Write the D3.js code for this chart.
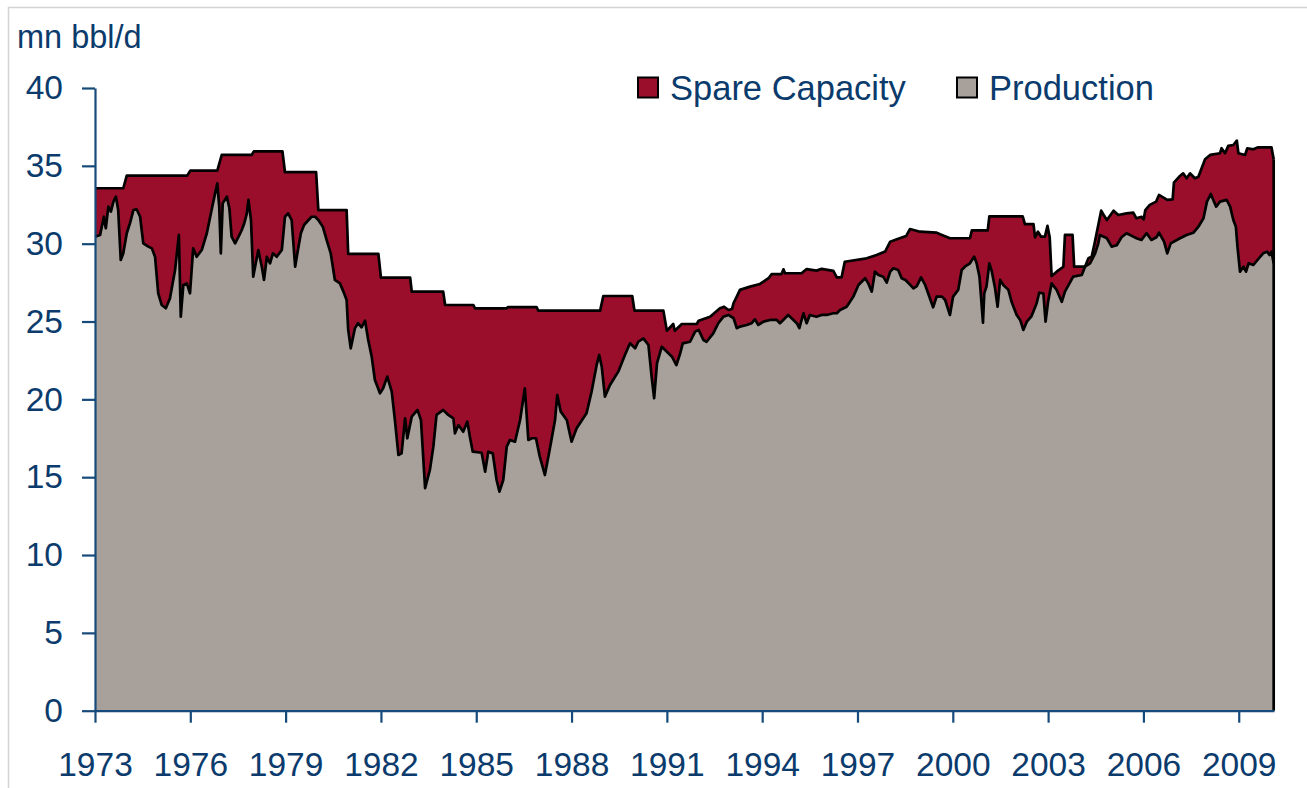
<!DOCTYPE html>
<html>
<head>
<meta charset="utf-8">
<script src="https://cdn.jsdelivr.net/npm/d3@7/dist/d3.min.js"></script>
<style>
  html, body { margin: 0; padding: 0; background: #ffffff; }
  svg { display: block; }
  text { font-family: "Liberation Sans", Arial, sans-serif; fill: #0B3B6C; }
</style>
</head>
<body>
<svg id="chart" width="1307" height="788"></svg>
<script>
// ---- Data ----
const unitLabel = "mn bbl/d";
const seriesNames = ["Spare Capacity", "Production"];
const yTicks = [0, 5, 10, 15, 20, 25, 30, 35, 40];
const xTicks = [1973, 1976, 1979, 1982, 1985, 1988, 1991, 1994, 1997, 2000, 2003, 2006, 2009];

// total capacity (production + spare capacity), decimal years
const capacityYears = [
  1973.0, 1973.89, 1974.0, 1975.9, 1976.0, 1976.85, 1976.99, 1977.93, 1978.0, 1978.9,
  1978.98, 1979.96, 1980.03, 1980.92, 1980.97, 1981.92, 1982.0, 1982.92, 1982.97, 1983.96,
  1984.02, 1984.91, 1984.96, 1985.96, 1986.0, 1986.9, 1986.95, 1988.9, 1989.0, 1989.91,
  1989.98, 1990.89, 1991.0, 1991.2, 1991.25, 1991.47, 1991.94, 1992.0, 1992.36, 1992.67,
  1992.8, 1992.94, 1993.05, 1993.1, 1993.2, 1993.3, 1993.62, 1993.93, 1994.2, 1994.3,
  1994.61, 1994.67, 1994.72, 1995.24, 1995.4, 1995.71, 1995.87, 1996.24, 1996.35, 1996.5,
  1996.6, 1997.29, 1997.6, 1997.87, 1998.03, 1998.24, 1998.53, 1998.65, 1998.97, 1999.49,
  1999.6, 1999.91, 2000.54, 2000.6, 2001.1, 2001.15, 2002.2, 2002.27, 2002.54, 2002.59,
  2002.68, 2002.78, 2002.9, 2002.98, 2003.05, 2003.11, 2003.27, 2003.48, 2003.53, 2003.77,
  2003.82, 2004.16, 2004.27, 2004.37, 2004.45, 2004.67, 2004.75, 2004.85, 2005.06, 2005.21,
  2005.47, 2005.68, 2005.78, 2005.94, 2006.01, 2006.06, 2006.2, 2006.4, 2006.49, 2006.75,
  2006.92, 2006.96, 2007.15, 2007.25, 2007.36, 2007.47, 2007.62, 2007.73, 2007.94, 2008.1,
  2008.41, 2008.46, 2008.57, 2008.67, 2008.83, 2008.94, 2008.99, 2009.2, 2009.27, 2009.46,
  2009.61, 2010.03, 2010.1
];
const capacityValues = [
  33.56, 33.56, 34.37, 34.37, 34.69, 34.69, 35.70, 35.70, 35.93, 35.93,
  34.59, 34.59, 32.16, 32.16, 29.34, 29.34, 27.82, 27.82, 26.92, 26.92,
  26.06, 26.06, 25.85, 25.85, 25.93, 25.93, 25.70, 25.70, 26.64, 26.64,
  25.70, 25.70, 24.41, 24.84, 24.41, 24.84, 24.84, 25.05, 25.31, 25.85,
  25.95, 25.74, 25.80, 26.19, 26.60, 27.03, 27.24, 27.41, 27.78, 28.05,
  28.05, 28.35, 28.10, 28.10, 28.37, 28.27, 28.38, 28.25, 27.84, 27.84,
  28.84, 29.06, 29.27, 29.49, 30.13, 30.28, 30.49, 30.94, 30.77, 30.71,
  30.60, 30.35, 30.35, 30.85, 30.85, 31.75, 31.75, 31.26, 31.26, 30.41,
  30.77, 30.45, 30.45, 31.14, 30.41, 27.92, 28.20, 28.52, 30.56, 30.56,
  28.52, 28.52, 29.06, 29.16, 29.90, 32.12, 31.84, 31.52, 32.12, 31.84,
  31.95, 32.00, 31.63, 31.73, 31.57, 32.16, 32.49, 32.70, 33.13, 32.81,
  32.85, 33.92, 34.35, 34.52, 34.20, 34.52, 34.20, 34.30, 35.42, 35.70,
  35.81, 36.13, 35.81, 36.28, 36.34, 36.62, 35.81, 35.70, 36.13, 36.06,
  36.19, 36.19, 35.42
];

// crude oil production, decimal years
const productionYears = [
  1973.0, 1973.16, 1973.28, 1973.34, 1973.42, 1973.5, 1973.58, 1973.66, 1973.73, 1973.81,
  1973.89, 1974.0, 1974.1, 1974.21, 1974.31, 1974.42, 1974.52, 1974.68, 1974.79, 1974.89,
  1974.99, 1975.1, 1975.23, 1975.36, 1975.52, 1975.64, 1975.7, 1975.78, 1975.89, 1975.99,
  1976.09, 1976.2, 1976.36, 1976.52, 1976.67, 1976.78, 1976.85, 1976.91, 1976.96, 1977.02,
  1977.15, 1977.23, 1977.3, 1977.41, 1977.52, 1977.62, 1977.7, 1977.78, 1977.83, 1977.91,
  1977.98, 1978.06, 1978.14, 1978.25, 1978.32, 1978.41, 1978.51, 1978.6, 1978.72, 1978.88,
  1978.98, 1979.08, 1979.19, 1979.3, 1979.37, 1979.48, 1979.58, 1979.72, 1979.82, 1979.93,
  1980.03, 1980.17, 1980.29, 1980.42, 1980.55, 1980.71, 1980.82, 1980.92, 1980.97, 1981.05,
  1981.18, 1981.28, 1981.39, 1981.5, 1981.6, 1981.71, 1981.81, 1981.97, 1982.07, 1982.2,
  1982.34, 1982.44, 1982.55, 1982.65, 1982.76, 1982.83, 1982.97, 1983.15, 1983.26, 1983.39,
  1983.54, 1983.65, 1983.75, 1983.96, 1984.12, 1984.28, 1984.33, 1984.44, 1984.59, 1984.72,
  1984.8, 1984.89, 1985.17, 1985.28, 1985.38, 1985.52, 1985.64, 1985.73, 1985.85, 1985.96,
  1986.06, 1986.22, 1986.38, 1986.53, 1986.64, 1986.75, 1986.88, 1987.0, 1987.16, 1987.32,
  1987.48, 1987.55, 1987.66, 1987.85, 1988.0, 1988.16, 1988.47, 1988.63, 1988.79, 1988.87,
  1988.95, 1989.05, 1989.21, 1989.47, 1989.68, 1989.84, 1990.0, 1990.1, 1990.26, 1990.42,
  1990.52, 1990.6, 1990.69, 1990.84, 1991.0, 1991.16, 1991.3, 1991.42, 1991.5, 1991.73,
  1991.89, 1992.0, 1992.15, 1992.25, 1992.46, 1992.62, 1992.78, 1992.94, 1993.1, 1993.2,
  1993.3, 1993.51, 1993.67, 1993.77, 1993.88, 1994.04, 1994.25, 1994.46, 1994.56, 1994.82,
  1995.09, 1995.17, 1995.3, 1995.4, 1995.5, 1995.71, 1995.87, 1996.03, 1996.24, 1996.35,
  1996.45, 1996.66, 1996.87, 1997.03, 1997.24, 1997.34, 1997.45, 1997.55, 1997.66, 1997.81,
  1997.92, 1998.03, 1998.13, 1998.28, 1998.39, 1998.51, 1998.66, 1998.76, 1998.87, 1999.0,
  1999.13, 1999.28, 1999.38, 1999.49, 1999.66, 1999.76, 1999.91, 2000.01, 2000.17, 2000.28,
  2000.38, 2000.54, 2000.67, 2000.75, 2000.84, 2000.95, 2000.99, 2001.06, 2001.15, 2001.23,
  2001.33, 2001.41, 2001.49, 2001.59, 2001.75, 2001.85, 2002.01, 2002.12, 2002.22, 2002.33,
  2002.47, 2002.64, 2002.72, 2002.85, 2002.92, 2003.0, 2003.11, 2003.27, 2003.43, 2003.53,
  2003.79, 2004.06, 2004.16, 2004.32, 2004.48, 2004.58, 2004.63, 2004.85, 2005.0, 2005.16,
  2005.31, 2005.47, 2005.68, 2005.78, 2005.94, 2006.1, 2006.25, 2006.41, 2006.49, 2006.65,
  2006.75, 2006.86, 2007.15, 2007.36, 2007.57, 2007.73, 2007.89, 2008.0, 2008.12, 2008.2,
  2008.29, 2008.41, 2008.62, 2008.73, 2008.83, 2008.91, 2008.96, 2009.04, 2009.15, 2009.23,
  2009.31, 2009.46, 2009.61, 2009.77, 2009.89, 2009.97, 2010.03, 2010.1
];
const productionValues = [
  30.45, 30.56, 31.73, 30.99, 32.38, 32.06, 32.70, 33.02, 32.16, 28.95,
  29.38, 30.67, 31.31, 32.16, 32.21, 31.73, 30.02, 29.81, 29.70, 29.16,
  26.81, 26.06, 25.85, 26.49, 28.31, 30.56, 25.31, 27.35, 27.45, 26.81,
  29.70, 29.16, 29.59, 30.67, 32.16, 33.23, 33.88, 32.38, 29.38, 32.59,
  33.02, 32.27, 30.45, 30.02, 30.45, 30.88, 31.31, 31.95, 32.81, 31.52,
  27.88, 28.74, 29.59, 28.52, 27.67, 29.16, 28.74, 29.38, 29.16, 29.59,
  31.73, 31.95, 31.52, 28.52, 29.38, 30.67, 31.20, 31.52, 31.73, 31.73,
  31.52, 31.09, 30.24, 29.38, 27.67, 27.45, 26.92, 26.38, 24.46, 23.28,
  24.56, 24.89, 24.63, 25.05, 23.81, 22.74, 21.24, 20.39, 20.71, 21.46,
  20.49, 18.67, 16.43, 16.53, 18.78, 17.50, 18.89, 19.32, 18.67, 14.29,
  15.46, 16.96, 19.00, 19.32, 19.00, 18.78, 17.82, 18.35, 17.92, 18.57,
  17.60, 16.64, 16.57, 15.35, 16.64, 16.53, 14.82, 14.07, 14.82, 16.96,
  17.39, 17.28, 18.67, 20.71, 17.39, 17.50, 17.50, 16.32, 15.14, 16.86,
  18.67, 20.28, 19.21, 18.67, 17.28, 18.14, 19.10, 20.49, 22.21, 22.85,
  22.10, 20.17, 20.92, 21.78, 22.85, 23.60, 23.28, 23.70, 23.92, 23.49,
  21.46, 20.07, 22.32, 23.38, 23.06, 22.74, 22.20, 22.96, 23.60, 23.70,
  24.35, 24.46, 23.81, 23.70, 24.24, 24.89, 25.31, 25.42, 25.21, 24.57,
  24.67, 24.78, 24.89, 25.14, 24.78, 24.99, 25.10, 25.10, 24.89, 25.42,
  24.89, 24.57, 25.53, 24.89, 25.42, 25.31, 25.42, 25.42, 25.53, 25.53,
  25.74, 25.95, 26.60, 27.35, 27.78, 27.45, 26.92, 28.20, 27.99, 27.88,
  27.50, 28.20, 28.42, 28.31, 27.78, 27.67, 27.35, 27.13, 27.28, 27.84,
  27.35, 26.49, 25.91, 26.60, 26.60, 26.38, 25.42, 26.60, 27.03, 28.31,
  28.52, 28.74, 29.17, 28.74, 27.88, 24.93, 26.81, 27.24, 28.74, 28.20,
  27.13, 25.95, 27.67, 27.35, 27.03, 26.27, 25.42, 25.10, 24.46, 24.99,
  25.31, 26.17, 26.85, 26.81, 24.99, 26.28, 27.45, 27.03, 26.27, 26.92,
  27.88, 27.99, 28.52, 28.74, 29.38, 30.02, 30.56, 30.35, 29.81, 29.90,
  30.41, 30.67, 30.45, 30.35, 30.24, 30.67, 30.24, 30.41, 30.70, 30.13,
  29.38, 30.02, 30.35, 30.56, 30.70, 31.09, 31.63, 32.70, 33.19, 32.81,
  32.38, 32.70, 32.81, 32.38, 31.52, 31.09, 29.81, 28.20, 28.52, 28.20,
  28.74, 28.63, 29.00, 29.38, 29.49, 29.27, 29.49, 28.74
];

// ---- Layout / styles ----
const colors = { spare: "#9A0E2B", production: "#A8A09A", outline: "#000000", axis: "#164A7A", text: "#0B3B6C" };
const svg = d3.select("#chart");

// outer light frame
svg.append("rect")
  .attr("x", 8.5).attr("y", 7.5).attr("width", 1320).attr("height", 800)
  .attr("fill", "none").attr("stroke", "#D4D4D4").attr("stroke-width", 1.5);

const x = d3.scaleLinear().domain([1973, 2010.11]).range([95, 1274]);
const y = d3.scaleLinear().domain([0, 40]).range([710.7, 88]);

const capacity = capacityYears.map((t, i) => ({ t, v: capacityValues[i] }));
const production = productionYears.map((t, i) => ({ t, v: productionValues[i] }));

const area = d3.area().x(d => x(d.t)).y0(y(0)).y1(d => y(d.v));
const line = d3.line().x(d => x(d.t)).y(d => y(d.v));

// Spare capacity drawn as the band above production (top edge = total capacity)
svg.append("path").datum(capacity)
  .attr("d", area).attr("fill", colors.spare);
svg.append("path").datum(production)
  .attr("d", area).attr("fill", colors.production);

// outlines
const lw = 2.7;
svg.append("path").datum(capacity).attr("d", line)
  .attr("fill", "none").attr("stroke", colors.outline).attr("stroke-width", lw).attr("stroke-linejoin", "round");
svg.append("path").datum(production).attr("d", line)
  .attr("fill", "none").attr("stroke", colors.outline).attr("stroke-width", lw).attr("stroke-linejoin", "round");
const last = capacity[capacity.length - 1];
svg.append("line")
  .attr("x1", x(last.t)).attr("x2", x(last.t))
  .attr("y1", y(last.v)).attr("y2", y(0))
  .attr("stroke", colors.outline).attr("stroke-width", lw);

// axes
const yAxis = d3.axisLeft(y).tickValues(yTicks).tickSize(13).tickSizeOuter(0).tickPadding(19);
const gy = svg.append("g").attr("transform", "translate(95,0)").call(yAxis);
const xAxis = d3.axisBottom(x).tickValues(xTicks).tickFormat(d3.format("d")).tickSize(12).tickSizeOuter(0).tickPadding(30);
const gx = svg.append("g").attr("transform", "translate(0,710.7)").call(xAxis);

[gx, gy].forEach(g => {
  g.select(".domain").attr("stroke", colors.axis).attr("stroke-width", 2.2);
  g.selectAll(".tick line").attr("stroke", colors.axis).attr("stroke-width", 2.2);
  g.selectAll(".tick text")
    .attr("fill", colors.text)
    .style("font-family", '"Liberation Sans", Arial, sans-serif')
    .style("font-size", "33.5px");
});

// unit label
svg.append("text").attr("x", 17).attr("y", 48)
  .style("font-size", "32.5px").attr("fill", colors.text).text(unitLabel);

// legend
const legendItems = [
  { name: seriesNames[0], color: colors.spare, bx: 638, tx: 670 },
  { name: seriesNames[1], color: colors.production, bx: 957, tx: 989 }
];
const lg = svg.append("g");
legendItems.forEach(it => {
  lg.append("rect").attr("x", it.bx).attr("y", 77.5).attr("width", 20).attr("height", 20)
    .attr("fill", it.color).attr("stroke", "#000").attr("stroke-width", 2);
  lg.append("text").attr("x", it.tx).attr("y", 100)
    .style("font-size", "34.5px").attr("fill", colors.text).text(it.name);
});
</script>
</body>
</html>
